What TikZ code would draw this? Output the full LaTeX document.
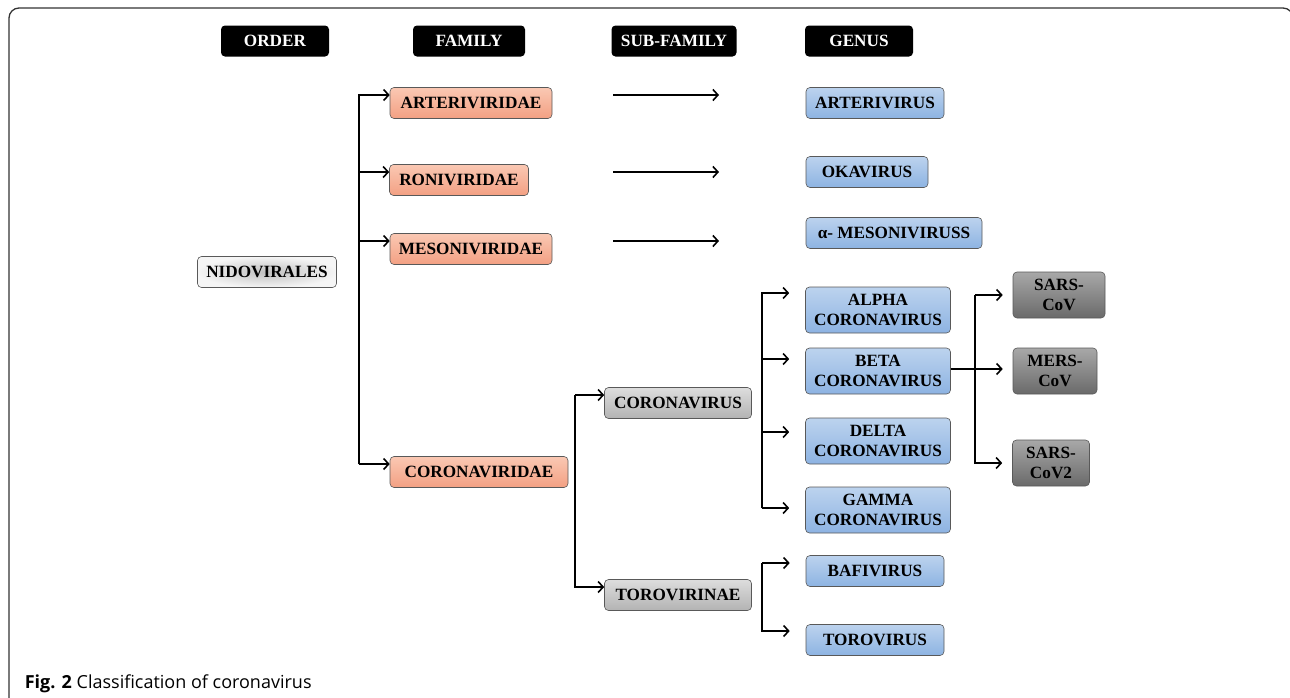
\documentclass[tikz,border=0pt]{standalone}
\usepackage{fontspec}
\setmainfont{Liberation Serif}
\newfontfamily\capfont{Open Sans}
\usepackage{tikz}
\usetikzlibrary{arrows.meta, positioning, calc}
\definecolor{salmontop}{HTML}{FAC8B3}
\definecolor{salmonbot}{HTML}{F3A083}
\definecolor{bluetop}{HTML}{BCD3EE}
\definecolor{bluebot}{HTML}{8DB3E2}
\definecolor{graytop}{HTML}{DDDDDD}
\definecolor{graybot}{HTML}{B3B3B3}
\definecolor{darktop}{HTML}{A8A8A8}
\definecolor{darkbot}{HTML}{6A6A6A}
\definecolor{framegray}{HTML}{333333}

\begin{document}
\begin{tikzpicture}[x=1pt,y=-1pt,>={Straight Barb[length=5pt,width=11pt]},line width=1.6pt,
        every node/.style={font=\fontsize{17.2}{20}\selectfont\bfseries,align=center,inner sep=0pt},
        tag/.style={fill=black,text=white,rounded corners=4pt,minimum height=31pt},
        box/.style={draw=black!65,line width=0.6pt,rounded corners=4pt,minimum height=31pt},
        fam/.style={box,top color=salmontop,bottom color=salmonbot},
        gen/.style={box,top color=bluetop,bottom color=bluebot},
        sub/.style={box,top color=graytop,bottom color=graybot},
        vir/.style={box,top color=darktop,bottom color=darkbot,minimum height=46pt},
        tall/.style={minimum height=46pt}]
        \useasboundingbox (0,0) rectangle (1290,697);
        \draw[framegray,line width=1.3pt,rounded corners=10pt] (9,8) rectangle (1293,760);

        % column heads
        \node[tag,minimum width=108pt](order) at (275,41){ORDER};
        \node[tag,minimum width=112pt](family) at (469,41){FAMILY};
        \node[tag,minimum width=125pt](subfamily) at (674,41){SUB-FAMILY};
        \node[tag,minimum width=108pt](genus) at (859,41){GENUS};

        \node[box,minimum width=139pt,shading=radial,inner color=black!25,outer color=black!4](nido) at (267,272){NIDOVIRALES};

        \node[fam,minimum width=162pt](arteri) at (471,103){ARTERIVIRIDAE};
        \node[fam,minimum width=139pt](roni) at (459,180){RONIVIRIDAE};
        \node[fam,minimum width=162pt](mesoni) at (471,249){MESONIVIRIDAE};
        \node[fam,minimum width=178pt](corona) at (479,472){CORONAVIRIDAE};

        \node[sub,minimum width=147pt](coronav) at (678,403){CORONAVIRUS};
        \node[sub,minimum width=147pt](torovir) at (678,595){TOROVIRINAE};

        \node[gen,minimum width=138pt](arterivirus) at (875,103){ARTERIVIRUS};
        \node[gen,minimum width=122pt](oka) at (867,172){OKAVIRUS};
        \node[gen,minimum width=176pt](amesoni) at (894,233){α- MESONIVIRUSS};
        \node[gen,tall,minimum width=145pt](alpha) at (878,310){ALPHA\\CORONAVIRUS};
        \node[gen,tall,minimum width=145pt](beta) at (878,371){BETA\\CORONAVIRUS};
        \node[gen,tall,minimum width=145pt](delta) at (878,441){DELTA\\CORONAVIRUS};
        \node[gen,tall,minimum width=145pt](gamma) at (878,510){GAMMA\\CORONAVIRUS};
        \node[gen,minimum width=138pt](bafi) at (875,571){BAFIVIRUS};
        \node[gen,minimum width=138pt](torovirus) at (875,640){TOROVIRUS};

        \node[vir,minimum width=92pt](sars) at (1059,295){SARS-\\CoV};
        \node[vir,minimum width=84pt](mers) at (1055,371){MERS-\\CoV};
        \node[vir,minimum width=77pt](sarstwo) at (1051,463){SARS-\\CoV2};

        % free ends of the connectors
        \coordinate (famtrunk) at (359,464);
        \coordinate (subtrunk) at (575,395);
        \coordinate (gentrunk) at (762,508);
        \coordinate (torotrunk) at (762,563);
        \coordinate (virtrunk) at (975,295);
        \coordinate (s1) at (613,95);   \coordinate (e1) at (719,95);
        \coordinate (s2) at (613,172);  \coordinate (e2) at (719,172);
        \coordinate (s3) at (613,241);  \coordinate (e3) at (719,241);

        \draw[->] (famtrunk) |- ([yshift=8pt]arteri.west);
        \draw[->] (famtrunk) |- ([yshift=8pt]roni.west);
        \draw[->] (famtrunk) |- ([yshift=8pt]mesoni.west);
        \draw[->] (famtrunk) -- ([yshift=8pt]corona.west);

        \draw[->] (subtrunk) -- ([yshift=8pt]coronav.west);
        \draw[->] (subtrunk) |- ([yshift=8pt]torovir.west);

        \draw[->] (s1) -- (e1);
        \draw[->] (s2) -- (e2);
        \draw[->] (s3) -- (e3);

        \draw[->] (gentrunk) |- ([xshift=-16pt,yshift=17pt]alpha.west);
        \draw[->] (gentrunk) |- ([xshift=-16pt,yshift=12pt]beta.west);
        \draw[->] (gentrunk) |- ([xshift=-16pt,yshift=9pt]delta.west);
        \draw[->] (gentrunk) -- ([xshift=-16pt,yshift=2pt]gamma.west);

        \draw[->] (torotrunk) -- ([xshift=-16pt,yshift=8pt]bafi.west);
        \draw[->] (torotrunk) |- ([xshift=-16pt,yshift=9pt]torovirus.west);

        \draw[->] (virtrunk) -- ([xshift=-10pt]sars.west);
        \draw[->] (virtrunk) |- ([xshift=-10pt]sarstwo.west);
        \draw[->] ([yshift=2pt]beta.east) -- ([xshift=-10pt,yshift=2pt]mers.west);

        \node[anchor=base west,font=\capfont\fontsize{18}{20}\selectfont](caption) at (24,688){\textbf{Fig. 2} Classification of coronavirus};
      \end{tikzpicture}
\end{document}
